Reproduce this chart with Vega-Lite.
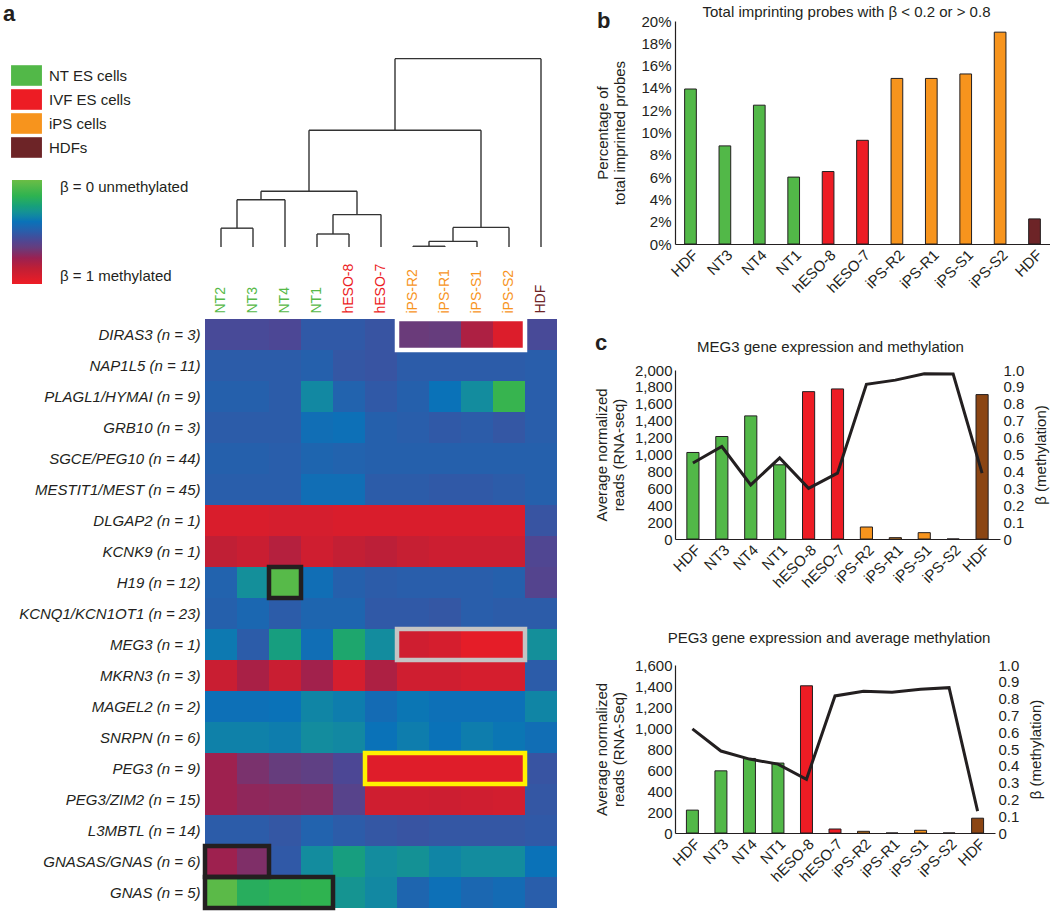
{
  "$schema": "https://vega.github.io/schema/vega-lite/v6.json",
  "autosize": {"type": "none"},
  "padding": {"left": 205, "top": 21, "right": 845, "bottom": 892},
  "config": {
    "font": "Liberation Sans",
    "view": {"stroke": null},
    "axis": {"labelFont": "Liberation Sans", "titleFont": "Liberation Sans", "labelColor": "#231f20", "titleColor": "#231f20", "titleFontWeight": "normal", "labelFontSize": 14, "titleFontSize": 14, "domainColor": "#231f20", "domainWidth": 1.2, "grid": false, "ticks": false},
    "title": {"fontWeight": "normal", "fontSize": 14, "color": "#231f20", "font": "Liberation Sans"},
    "legend": {"labelFont": "Liberation Sans", "labelColor": "#231f20", "padding": 0}
  },
  "bounds": "flush",
  "spacing": 470,
  "resolve": {"scale": {"color": "independent", "stroke": "independent"}, "legend": {"color": "independent"}},
  "hconcat": [
    {
      "title": {"text": "a", "anchor": "start", "frame": "group", "dx": -202, "dy": 6, "offset": 1, "fontSize": 22, "fontWeight": "bold"},
      "bounds": "flush",
      "spacing": 72,
      "resolve": {"scale": {"color": "independent"}},
      "vconcat": [
        {
          "width": 352,
          "height": 226,
          "data": {"values": [
            {"x1": 0, "x2": 0, "y1": 0, "y2": 0.10},
            {"x1": 1, "x2": 1, "y1": 0, "y2": 0.10},
            {"x1": 2, "x2": 2, "y1": 0, "y2": 0.251},
            {"x1": 3, "x2": 3, "y1": 0, "y2": 0.069},
            {"x1": 4, "x2": 4, "y1": 0, "y2": 0.069},
            {"x1": 5, "x2": 5, "y1": 0, "y2": 0.172},
            {"x1": 6, "x2": 6, "y1": 0, "y2": 0.004},
            {"x1": 7, "x2": 7, "y1": 0, "y2": 0.004},
            {"x1": 8, "x2": 8, "y1": 0, "y2": 0.03},
            {"x1": 9, "x2": 9, "y1": 0, "y2": 0.104},
            {"x1": 10, "x2": 10, "y1": 0, "y2": 1.0},
            {"x1": 0, "x2": 1, "y1": 0.10, "y2": 0.10},
            {"x1": 0.5, "x2": 2, "y1": 0.251, "y2": 0.251},
            {"x1": 3, "x2": 4, "y1": 0.069, "y2": 0.069},
            {"x1": 3.5, "x2": 5, "y1": 0.172, "y2": 0.172},
            {"x1": 1.25, "x2": 4.25, "y1": 0.296, "y2": 0.296},
            {"x1": 6, "x2": 7, "y1": 0.004, "y2": 0.004},
            {"x1": 6.5, "x2": 8, "y1": 0.03, "y2": 0.03},
            {"x1": 7.25, "x2": 9, "y1": 0.104, "y2": 0.104},
            {"x1": 2.75, "x2": 8.125, "y1": 0.62, "y2": 0.62},
            {"x1": 5.4375, "x2": 10, "y1": 1.0, "y2": 1.0},
            {"x1": 0.5, "x2": 0.5, "y1": 0.10, "y2": 0.251},
            {"x1": 3.5, "x2": 3.5, "y1": 0.069, "y2": 0.172},
            {"x1": 1.25, "x2": 1.25, "y1": 0.251, "y2": 0.296},
            {"x1": 4.25, "x2": 4.25, "y1": 0.172, "y2": 0.296},
            {"x1": 6.5, "x2": 6.5, "y1": 0.004, "y2": 0.03},
            {"x1": 7.25, "x2": 7.25, "y1": 0.03, "y2": 0.104},
            {"x1": 2.75, "x2": 2.75, "y1": 0.296, "y2": 0.62},
            {"x1": 8.125, "x2": 8.125, "y1": 0.104, "y2": 0.62},
            {"x1": 5.4375, "x2": 5.4375, "y1": 0.62, "y2": 1.0}
          ]},
          "mark": {"type": "rule", "color": "#333333", "strokeWidth": 1.4},
          "encoding": {
            "x": {"field": "x1", "type": "quantitative", "scale": {"domain": [-0.5, 10.5], "nice": false, "zero": false}, "axis": null},
            "x2": {"field": "x2"},
            "y": {"field": "y1", "type": "quantitative", "scale": {"domain": [0, 1.2], "nice": false}, "axis": null},
            "y2": {"field": "y2"}
          }
        },
        {
          "width": 352,
          "height": 589,
          "layer": [
            {
              "data": {"values": [
                {"g":"DIRAS3 (n = 3)","s":"NT2","b":0.57},{"g":"DIRAS3 (n = 3)","s":"NT3","b":0.57},{"g":"DIRAS3 (n = 3)","s":"NT4","b":0.58},{"g":"DIRAS3 (n = 3)","s":"NT1","b":0.51},{"g":"DIRAS3 (n = 3)","s":"hESO-8","b":0.51},{"g":"DIRAS3 (n = 3)","s":"hESO-7","b":0.53},{"g":"DIRAS3 (n = 3)","s":"iPS-R2","b":0.66},{"g":"DIRAS3 (n = 3)","s":"iPS-R1","b":0.65},{"g":"DIRAS3 (n = 3)","s":"iPS-S1","b":0.8},{"g":"DIRAS3 (n = 3)","s":"iPS-S2","b":0.94},{"g":"DIRAS3 (n = 3)","s":"HDF","b":0.57},
                {"g":"NAP1L5 (n = 11)","s":"NT2","b":0.5},{"g":"NAP1L5 (n = 11)","s":"NT3","b":0.5},{"g":"NAP1L5 (n = 11)","s":"NT4","b":0.5},{"g":"NAP1L5 (n = 11)","s":"NT1","b":0.48},{"g":"NAP1L5 (n = 11)","s":"hESO-8","b":0.52},{"g":"NAP1L5 (n = 11)","s":"hESO-7","b":0.53},{"g":"NAP1L5 (n = 11)","s":"iPS-R2","b":0.5},{"g":"NAP1L5 (n = 11)","s":"iPS-R1","b":0.5},{"g":"NAP1L5 (n = 11)","s":"iPS-S1","b":0.5},{"g":"NAP1L5 (n = 11)","s":"iPS-S2","b":0.5},{"g":"NAP1L5 (n = 11)","s":"HDF","b":0.49},
                {"g":"PLAGL1/HYMAI (n = 9)","s":"NT2","b":0.48},{"g":"PLAGL1/HYMAI (n = 9)","s":"NT3","b":0.48},{"g":"PLAGL1/HYMAI (n = 9)","s":"NT4","b":0.5},{"g":"PLAGL1/HYMAI (n = 9)","s":"NT1","b":0.34},{"g":"PLAGL1/HYMAI (n = 9)","s":"hESO-8","b":0.47},{"g":"PLAGL1/HYMAI (n = 9)","s":"hESO-7","b":0.51},{"g":"PLAGL1/HYMAI (n = 9)","s":"iPS-R2","b":0.48},{"g":"PLAGL1/HYMAI (n = 9)","s":"iPS-R1","b":0.4},{"g":"PLAGL1/HYMAI (n = 9)","s":"iPS-S1","b":0.33},{"g":"PLAGL1/HYMAI (n = 9)","s":"iPS-S2","b":0.13},{"g":"PLAGL1/HYMAI (n = 9)","s":"HDF","b":0.49},
                {"g":"GRB10 (n = 3)","s":"NT2","b":0.5},{"g":"GRB10 (n = 3)","s":"NT3","b":0.5},{"g":"GRB10 (n = 3)","s":"NT4","b":0.5},{"g":"GRB10 (n = 3)","s":"NT1","b":0.42},{"g":"GRB10 (n = 3)","s":"hESO-8","b":0.41},{"g":"GRB10 (n = 3)","s":"hESO-7","b":0.48},{"g":"GRB10 (n = 3)","s":"iPS-R2","b":0.49},{"g":"GRB10 (n = 3)","s":"iPS-R1","b":0.51},{"g":"GRB10 (n = 3)","s":"iPS-S1","b":0.5},{"g":"GRB10 (n = 3)","s":"iPS-S2","b":0.52},{"g":"GRB10 (n = 3)","s":"HDF","b":0.49},
                {"g":"SGCE/PEG10 (n = 44)","s":"NT2","b":0.48},{"g":"SGCE/PEG10 (n = 44)","s":"NT3","b":0.48},{"g":"SGCE/PEG10 (n = 44)","s":"NT4","b":0.49},{"g":"SGCE/PEG10 (n = 44)","s":"NT1","b":0.46},{"g":"SGCE/PEG10 (n = 44)","s":"hESO-8","b":0.47},{"g":"SGCE/PEG10 (n = 44)","s":"hESO-7","b":0.48},{"g":"SGCE/PEG10 (n = 44)","s":"iPS-R2","b":0.48},{"g":"SGCE/PEG10 (n = 44)","s":"iPS-R1","b":0.48},{"g":"SGCE/PEG10 (n = 44)","s":"iPS-S1","b":0.48},{"g":"SGCE/PEG10 (n = 44)","s":"iPS-S2","b":0.48},{"g":"SGCE/PEG10 (n = 44)","s":"HDF","b":0.48},
                {"g":"MESTIT1/MEST (n = 45)","s":"NT2","b":0.49},{"g":"MESTIT1/MEST (n = 45)","s":"NT3","b":0.49},{"g":"MESTIT1/MEST (n = 45)","s":"NT4","b":0.49},{"g":"MESTIT1/MEST (n = 45)","s":"NT1","b":0.42},{"g":"MESTIT1/MEST (n = 45)","s":"hESO-8","b":0.42},{"g":"MESTIT1/MEST (n = 45)","s":"hESO-7","b":0.5},{"g":"MESTIT1/MEST (n = 45)","s":"iPS-R2","b":0.5},{"g":"MESTIT1/MEST (n = 45)","s":"iPS-R1","b":0.51},{"g":"MESTIT1/MEST (n = 45)","s":"iPS-S1","b":0.51},{"g":"MESTIT1/MEST (n = 45)","s":"iPS-S2","b":0.5},{"g":"MESTIT1/MEST (n = 45)","s":"HDF","b":0.48},
                {"g":"DLGAP2 (n = 1)","s":"NT2","b":0.93},{"g":"DLGAP2 (n = 1)","s":"NT3","b":0.93},{"g":"DLGAP2 (n = 1)","s":"NT4","b":0.92},{"g":"DLGAP2 (n = 1)","s":"NT1","b":0.92},{"g":"DLGAP2 (n = 1)","s":"hESO-8","b":0.93},{"g":"DLGAP2 (n = 1)","s":"hESO-7","b":0.93},{"g":"DLGAP2 (n = 1)","s":"iPS-R2","b":0.93},{"g":"DLGAP2 (n = 1)","s":"iPS-R1","b":0.93},{"g":"DLGAP2 (n = 1)","s":"iPS-S1","b":0.93},{"g":"DLGAP2 (n = 1)","s":"iPS-S2","b":0.93},{"g":"DLGAP2 (n = 1)","s":"HDF","b":0.53},
                {"g":"KCNK9 (n = 1)","s":"NT2","b":0.85},{"g":"KCNK9 (n = 1)","s":"NT3","b":0.88},{"g":"KCNK9 (n = 1)","s":"NT4","b":0.82},{"g":"KCNK9 (n = 1)","s":"NT1","b":0.9},{"g":"KCNK9 (n = 1)","s":"hESO-8","b":0.86},{"g":"KCNK9 (n = 1)","s":"hESO-7","b":0.84},{"g":"KCNK9 (n = 1)","s":"iPS-R2","b":0.87},{"g":"KCNK9 (n = 1)","s":"iPS-R1","b":0.89},{"g":"KCNK9 (n = 1)","s":"iPS-S1","b":0.89},{"g":"KCNK9 (n = 1)","s":"iPS-S2","b":0.89},{"g":"KCNK9 (n = 1)","s":"HDF","b":0.59},
                {"g":"H19 (n = 12)","s":"NT2","b":0.47},{"g":"H19 (n = 12)","s":"NT3","b":0.32},{"g":"H19 (n = 12)","s":"NT4","b":0.05},{"g":"H19 (n = 12)","s":"NT1","b":0.42},{"g":"H19 (n = 12)","s":"hESO-8","b":0.48},{"g":"H19 (n = 12)","s":"hESO-7","b":0.5},{"g":"H19 (n = 12)","s":"iPS-R2","b":0.49},{"g":"H19 (n = 12)","s":"iPS-R1","b":0.49},{"g":"H19 (n = 12)","s":"iPS-S1","b":0.49},{"g":"H19 (n = 12)","s":"iPS-S2","b":0.48},{"g":"H19 (n = 12)","s":"HDF","b":0.6},
                {"g":"KCNQ1/KCN1OT1 (n = 23)","s":"NT2","b":0.48},{"g":"KCNQ1/KCN1OT1 (n = 23)","s":"NT3","b":0.45},{"g":"KCNQ1/KCN1OT1 (n = 23)","s":"NT4","b":0.5},{"g":"KCNQ1/KCN1OT1 (n = 23)","s":"NT1","b":0.46},{"g":"KCNQ1/KCN1OT1 (n = 23)","s":"hESO-8","b":0.46},{"g":"KCNQ1/KCN1OT1 (n = 23)","s":"hESO-7","b":0.51},{"g":"KCNQ1/KCN1OT1 (n = 23)","s":"iPS-R2","b":0.51},{"g":"KCNQ1/KCN1OT1 (n = 23)","s":"iPS-R1","b":0.52},{"g":"KCNQ1/KCN1OT1 (n = 23)","s":"iPS-S1","b":0.49},{"g":"KCNQ1/KCN1OT1 (n = 23)","s":"iPS-S2","b":0.5},{"g":"KCNQ1/KCN1OT1 (n = 23)","s":"HDF","b":0.5},
                {"g":"MEG3 (n = 1)","s":"NT2","b":0.38},{"g":"MEG3 (n = 1)","s":"NT3","b":0.5},{"g":"MEG3 (n = 1)","s":"NT4","b":0.26},{"g":"MEG3 (n = 1)","s":"NT1","b":0.42},{"g":"MEG3 (n = 1)","s":"hESO-8","b":0.22},{"g":"MEG3 (n = 1)","s":"hESO-7","b":0.33},{"g":"MEG3 (n = 1)","s":"iPS-R2","b":0.9},{"g":"MEG3 (n = 1)","s":"iPS-R1","b":0.92},{"g":"MEG3 (n = 1)","s":"iPS-S1","b":0.97},{"g":"MEG3 (n = 1)","s":"iPS-S2","b":0.97},{"g":"MEG3 (n = 1)","s":"HDF","b":0.32},
                {"g":"MKRN3 (n = 3)","s":"NT2","b":0.88},{"g":"MKRN3 (n = 3)","s":"NT3","b":0.79},{"g":"MKRN3 (n = 3)","s":"NT4","b":0.88},{"g":"MKRN3 (n = 3)","s":"NT1","b":0.77},{"g":"MKRN3 (n = 3)","s":"hESO-8","b":0.92},{"g":"MKRN3 (n = 3)","s":"hESO-7","b":0.8},{"g":"MKRN3 (n = 3)","s":"iPS-R2","b":0.9},{"g":"MKRN3 (n = 3)","s":"iPS-R1","b":0.9},{"g":"MKRN3 (n = 3)","s":"iPS-S1","b":0.92},{"g":"MKRN3 (n = 3)","s":"iPS-S2","b":0.92},{"g":"MKRN3 (n = 3)","s":"HDF","b":0.5},
                {"g":"MAGEL2 (n = 2)","s":"NT2","b":0.41},{"g":"MAGEL2 (n = 2)","s":"NT3","b":0.41},{"g":"MAGEL2 (n = 2)","s":"NT4","b":0.4},{"g":"MAGEL2 (n = 2)","s":"NT1","b":0.35},{"g":"MAGEL2 (n = 2)","s":"hESO-8","b":0.37},{"g":"MAGEL2 (n = 2)","s":"hESO-7","b":0.43},{"g":"MAGEL2 (n = 2)","s":"iPS-R2","b":0.39},{"g":"MAGEL2 (n = 2)","s":"iPS-R1","b":0.41},{"g":"MAGEL2 (n = 2)","s":"iPS-S1","b":0.41},{"g":"MAGEL2 (n = 2)","s":"iPS-S2","b":0.41},{"g":"MAGEL2 (n = 2)","s":"HDF","b":0.35},
                {"g":"SNRPN (n = 6)","s":"NT2","b":0.36},{"g":"SNRPN (n = 6)","s":"NT3","b":0.36},{"g":"SNRPN (n = 6)","s":"NT4","b":0.37},{"g":"SNRPN (n = 6)","s":"NT1","b":0.33},{"g":"SNRPN (n = 6)","s":"hESO-8","b":0.34},{"g":"SNRPN (n = 6)","s":"hESO-7","b":0.4},{"g":"SNRPN (n = 6)","s":"iPS-R2","b":0.37},{"g":"SNRPN (n = 6)","s":"iPS-R1","b":0.4},{"g":"SNRPN (n = 6)","s":"iPS-S1","b":0.37},{"g":"SNRPN (n = 6)","s":"iPS-S2","b":0.39},{"g":"SNRPN (n = 6)","s":"HDF","b":0.42},
                {"g":"PEG3 (n = 9)","s":"NT2","b":0.76},{"g":"PEG3 (n = 9)","s":"NT3","b":0.69},{"g":"PEG3 (n = 9)","s":"NT4","b":0.65},{"g":"PEG3 (n = 9)","s":"NT1","b":0.63},{"g":"PEG3 (n = 9)","s":"hESO-8","b":0.58},{"g":"PEG3 (n = 9)","s":"hESO-7","b":0.95},{"g":"PEG3 (n = 9)","s":"iPS-R2","b":0.95},{"g":"PEG3 (n = 9)","s":"iPS-R1","b":0.95},{"g":"PEG3 (n = 9)","s":"iPS-S1","b":0.95},{"g":"PEG3 (n = 9)","s":"iPS-S2","b":0.95},{"g":"PEG3 (n = 9)","s":"HDF","b":0.53},
                {"g":"PEG3/ZIM2 (n = 15)","s":"NT2","b":0.76},{"g":"PEG3/ZIM2 (n = 15)","s":"NT3","b":0.73},{"g":"PEG3/ZIM2 (n = 15)","s":"NT4","b":0.72},{"g":"PEG3/ZIM2 (n = 15)","s":"NT1","b":0.71},{"g":"PEG3/ZIM2 (n = 15)","s":"hESO-8","b":0.61},{"g":"PEG3/ZIM2 (n = 15)","s":"hESO-7","b":0.9},{"g":"PEG3/ZIM2 (n = 15)","s":"iPS-R2","b":0.9},{"g":"PEG3/ZIM2 (n = 15)","s":"iPS-R1","b":0.89},{"g":"PEG3/ZIM2 (n = 15)","s":"iPS-S1","b":0.9},{"g":"PEG3/ZIM2 (n = 15)","s":"iPS-S2","b":0.91},{"g":"PEG3/ZIM2 (n = 15)","s":"HDF","b":0.52},
                {"g":"L3MBTL (n = 14)","s":"NT2","b":0.5},{"g":"L3MBTL (n = 14)","s":"NT3","b":0.5},{"g":"L3MBTL (n = 14)","s":"NT4","b":0.52},{"g":"L3MBTL (n = 14)","s":"NT1","b":0.47},{"g":"L3MBTL (n = 14)","s":"hESO-8","b":0.5},{"g":"L3MBTL (n = 14)","s":"hESO-7","b":0.52},{"g":"L3MBTL (n = 14)","s":"iPS-R2","b":0.53},{"g":"L3MBTL (n = 14)","s":"iPS-R1","b":0.52},{"g":"L3MBTL (n = 14)","s":"iPS-S1","b":0.52},{"g":"L3MBTL (n = 14)","s":"iPS-S2","b":0.52},{"g":"L3MBTL (n = 14)","s":"HDF","b":0.51},
                {"g":"GNASAS/GNAS (n = 6)","s":"NT2","b":0.76},{"g":"GNASAS/GNAS (n = 6)","s":"NT3","b":0.7},{"g":"GNASAS/GNAS (n = 6)","s":"NT4","b":0.51},{"g":"GNASAS/GNAS (n = 6)","s":"NT1","b":0.33},{"g":"GNASAS/GNAS (n = 6)","s":"hESO-8","b":0.26},{"g":"GNASAS/GNAS (n = 6)","s":"hESO-7","b":0.33},{"g":"GNASAS/GNAS (n = 6)","s":"iPS-R2","b":0.31},{"g":"GNASAS/GNAS (n = 6)","s":"iPS-R1","b":0.35},{"g":"GNASAS/GNAS (n = 6)","s":"iPS-S1","b":0.33},{"g":"GNASAS/GNAS (n = 6)","s":"iPS-S2","b":0.33},{"g":"GNASAS/GNAS (n = 6)","s":"HDF","b":0.4},
                {"g":"GNAS (n = 5)","s":"NT2","b":0.04},{"g":"GNAS (n = 5)","s":"NT3","b":0.18},{"g":"GNAS (n = 5)","s":"NT4","b":0.16},{"g":"GNAS (n = 5)","s":"NT1","b":0.15},{"g":"GNAS (n = 5)","s":"hESO-8","b":0.3},{"g":"GNAS (n = 5)","s":"hESO-7","b":0.34},{"g":"GNAS (n = 5)","s":"iPS-R2","b":0.46},{"g":"GNAS (n = 5)","s":"iPS-R1","b":0.41},{"g":"GNAS (n = 5)","s":"iPS-S1","b":0.45},{"g":"GNAS (n = 5)","s":"iPS-S2","b":0.43},{"g":"GNAS (n = 5)","s":"HDF","b":0.49}
              ]},
              "mark": {"type": "rect"},
              "encoding": {
                "x": {"field": "s", "type": "nominal",
                  "scale": {"domain": ["NT2","NT3","NT4","NT1","hESO-8","hESO-7","iPS-R2","iPS-R1","iPS-S1","iPS-S2","HDF"], "paddingInner": 0, "paddingOuter": 0},
                  "axis": {"orient": "top", "title": null, "domain": false, "ticks": false, "labelAngle": -90, "labelAlign": "left", "labelBaseline": "middle", "labelPadding": 6, "labelFontSize": 14,
                    "labelColor": {"expr": "indexof(['NT2','NT3','NT4','NT1'], datum.value) >= 0 ? '#56b947' : (indexof(['hESO-8','hESO-7'], datum.value) >= 0 ? '#ec1c24' : (datum.value == 'HDF' ? '#6d2427' : '#f7941d'))"}}},
                "y": {"field": "g", "type": "nominal",
                  "scale": {"domain": ["DIRAS3 (n = 3)","NAP1L5 (n = 11)","PLAGL1/HYMAI (n = 9)","GRB10 (n = 3)","SGCE/PEG10 (n = 44)","MESTIT1/MEST (n = 45)","DLGAP2 (n = 1)","KCNK9 (n = 1)","H19 (n = 12)","KCNQ1/KCN1OT1 (n = 23)","MEG3 (n = 1)","MKRN3 (n = 3)","MAGEL2 (n = 2)","SNRPN (n = 6)","PEG3 (n = 9)","PEG3/ZIM2 (n = 15)","L3MBTL (n = 14)","GNASAS/GNAS (n = 6)","GNAS (n = 5)"], "paddingInner": 0, "paddingOuter": 0},
                  "axis": {"title": null, "domain": false, "ticks": false, "labelFontSize": 15, "labelFontStyle": "italic", "labelPadding": 5, "labelLimit": 400}},
                "color": {"field": "b", "type": "quantitative",
                  "scale": {"domain": [1, 0.85, 0.75, 0.66, 0.58, 0.5, 0.4, 0.33, 0.25, 0.15, 0], "range": ["#ee1c25", "#c01f35", "#9a2152", "#6a3b7a", "#4c4795", "#2c5ca9", "#0a72b8", "#138c9e", "#17a07a", "#2fb350", "#6bbd45"], "interpolate": "rgb"},
                  "legend": {"orient": "none", "legendX": -193, "legendY": -139, "direction": "vertical", "title": null, "gradientLength": 104, "gradientThickness": 30, "values": [0, 1], "labelExpr": "datum.value == 0 ? 'β = 0 unmethylated' : 'β = 1 methylated'", "labelFontSize": 15, "labelOffset": 18, "gradientStrokeWidth": 0, "labelOverlap": false}}
              }
            },
            {
              "data": {"values": [
                {"g":"DIRAS3 (n = 3)","from":"iPS-R2","to":"iPS-S2","k":"white"},
                {"g":"H19 (n = 12)","from":"NT4","to":"NT4","k":"black"},
                {"g":"MEG3 (n = 1)","from":"iPS-R2","to":"iPS-S2","k":"gray"},
                {"g":"PEG3 (n = 9)","from":"hESO-7","to":"iPS-S2","k":"yellow"},
                {"g":"GNASAS/GNAS (n = 6)","from":"NT2","to":"NT3","k":"black"},
                {"g":"GNAS (n = 5)","from":"NT2","to":"NT1","k":"black"}
              ]},
              "mark": {"type": "rect", "fill": "transparent", "strokeWidth": 4.5},
              "encoding": {
                "x": {"field": "from", "type": "nominal", "bandPosition": 0},
                "x2": {"field": "to", "bandPosition": 1},
                "y": {"field": "g", "type": "nominal"},
                "stroke": {"field": "k", "type": "nominal", "scale": {"domain": ["white","black","gray","yellow"], "range": ["#ffffff","#231f20","#c4c4c4","#fff200"]}, "legend": null}
              }
            }
          ]
        }
      ]
    },
    {
      "title": {"text": "b", "anchor": "start", "frame": "group", "dx": -78, "dy": 28, "offset": 0, "fontSize": 22, "fontWeight": "bold"},
      "bounds": "flush",
      "spacing": 126,
      "resolve": {"scale": {"color": "independent"}, "legend": {"color": "independent"}},
      "vconcat": [
        {
          "width": 375,
          "height": 223,
          "title": {"text": "Total imprinting probes with β < 0.2 or > 0.8", "fontSize": 15, "offset": 5, "dx": -16, "dy": 11},
          "data": {"values": [
            {"id":"HDF","t":"NT ES cells","pct":13.9},
            {"id":"NT3","t":"NT ES cells","pct":8.8},
            {"id":"NT4","t":"NT ES cells","pct":12.45},
            {"id":"NT1","t":"NT ES cells","pct":6.0},
            {"id":"hESO-8","t":"IVF ES cells","pct":6.5},
            {"id":"hESO-7","t":"IVF ES cells","pct":9.3},
            {"id":"iPS-R2","t":"iPS cells","pct":14.85},
            {"id":"iPS-R1","t":"iPS cells","pct":14.85},
            {"id":"iPS-S1","t":"iPS cells","pct":15.25},
            {"id":"iPS-S2","t":"iPS cells","pct":19.0},
            {"id":"HDF#2","t":"HDFs","pct":2.25}
          ]},
          "mark": {"type": "bar", "stroke": "#231f20", "strokeWidth": 1},
          "encoding": {
            "x": {"field": "id", "type": "nominal", "sort": null, "scale": {"paddingInner": 0.66, "paddingOuter": 0.28},
              "axis": {"title": null, "labelAngle": -45, "labelExpr": "replace(datum.value, '#2', '')", "labelPadding": 3, "labelFontSize": 15}},
            "y": {"field": "pct", "type": "quantitative", "scale": {"domain": [0, 20], "nice": false},
              "axis": {"values": [0,2,4,6,8,10,12,14,16,18,20], "labelExpr": "datum.value + '%'", "title": ["Percentage of", "total imprinted probes"], "titleFontSize": 15, "titlePadding": 13, "labelPadding": 4, "labelFontSize": 15}},
            "color": {"field": "t", "type": "nominal",
              "scale": {"domain": ["NT ES cells","IVF ES cells","iPS cells","HDFs"], "range": ["#52b848","#ed1c24","#f7941d","#6d2427"]},
              "legend": {"orient": "none", "legendX": -659, "legendY": 44, "title": null, "symbolType": "M-1.5,-1H1.5V1H-1.5Z", "symbolSize": 424, "symbolStrokeWidth": 0, "symbolOpacity": 1, "labelFontSize": 15, "labelOffset": 12, "rowPadding": 3}}
          }
        },
        {
          "width": 325,
          "height": 169,
          "title": {"text": "c", "anchor": "start", "frame": "group", "dx": -80, "dy": 32, "offset": 16, "fontSize": 22, "fontWeight": "bold"},
          "data": {"values": [
            {"id":"HDF","t":"NT ES cells","reads":1024,"beta":0.45},
            {"id":"NT3","t":"NT ES cells","reads":1213,"beta":0.547},
            {"id":"NT4","t":"NT ES cells","reads":1457,"beta":0.32},
            {"id":"NT1","t":"NT ES cells","reads":878,"beta":0.48},
            {"id":"hESO-8","t":"IVF ES cells","reads":1744,"beta":0.3},
            {"id":"hESO-7","t":"IVF ES cells","reads":1776,"beta":0.39},
            {"id":"iPS-R2","t":"iPS cells","reads":142,"beta":0.915},
            {"id":"iPS-R1","t":"iPS cells","reads":16,"beta":0.94},
            {"id":"iPS-S1","t":"iPS cells","reads":75,"beta":0.978},
            {"id":"iPS-S2","t":"iPS cells","reads":0,"beta":0.976},
            {"id":"HDF#2","t":"HDFs","reads":1709,"beta":0.39}
          ]},
          "layer": [
            {
              "mark": {"type": "bar", "stroke": "#231f20", "strokeWidth": 1},
              "encoding": {
                "x": {"field": "id", "type": "nominal", "sort": null, "scale": {"paddingInner": 0.58, "paddingOuter": 0.41},
                  "axis": {"title": null, "labelAngle": -45, "labelExpr": "replace(datum.value, '#2', '')", "labelPadding": 3, "labelFontSize": 15}},
                "y": {"field": "reads", "type": "quantitative", "scale": {"domain": [0, 2000], "nice": false},
                  "axis": {"values": [0,200,400,600,800,1000,1200,1400,1600,1800,2000], "format": ",d", "title": ["Average normalized", "reads (RNA-seq)"], "titleFontSize": 15, "titlePadding": 8, "labelPadding": 3, "labelFontSize": 15}},
                "color": {"field": "t", "type": "nominal",
                  "scale": {"domain": ["NT ES cells","IVF ES cells","iPS cells","HDFs"], "range": ["#52b848","#ed1c24","#f7941d","#8b4513"]}, "legend": null}
              }
            },
            {
              "mark": {"type": "line", "color": "#231f20", "strokeWidth": 3},
              "encoding": {
                "x": {"field": "id", "type": "nominal", "sort": null,
                  "axis": {"orient": "top", "title": "MEG3 gene expression and methylation", "titleFontSize": 15, "labels": false, "domain": false, "ticks": false, "titlePadding": 16, "titleX": 155}},
                "y": {"field": "beta", "type": "quantitative", "scale": {"domain": [0, 1], "nice": false},
                  "axis": {"orient": "right", "values": [0,0.1,0.2,0.3,0.4,0.5,0.6,0.7,0.8,0.9,1], "labelExpr": "datum.value == 0 ? '0' : format(datum.value, '.1f')", "domain": false, "title": "β (methylation)", "titleFontSize": 15, "titleAngle": 270, "titleBaseline": "top", "titlePadding": 10, "labelPadding": 3, "labelFontSize": 15}}
              }
            }
          ],
          "resolve": {"scale": {"y": "independent"}, "axis": {"x": "independent"}}
        },
        {
          "width": 320,
          "height": 168,
          "data": {"values": [
            {"id":"HDF","t":"NT ES cells","reads":218,"beta":0.62},
            {"id":"NT3","t":"NT ES cells","reads":592,"beta":0.488},
            {"id":"NT4","t":"NT ES cells","reads":710,"beta":0.44},
            {"id":"NT1","t":"NT ES cells","reads":666,"beta":0.41},
            {"id":"hESO-8","t":"IVF ES cells","reads":1402,"beta":0.32},
            {"id":"hESO-7","t":"IVF ES cells","reads":38,"beta":0.816},
            {"id":"iPS-R2","t":"iPS cells","reads":16,"beta":0.844},
            {"id":"iPS-R1","t":"iPS cells","reads":0,"beta":0.838},
            {"id":"iPS-S1","t":"iPS cells","reads":26,"beta":0.855},
            {"id":"iPS-S2","t":"iPS cells","reads":0,"beta":0.865},
            {"id":"HDF#2","t":"HDFs","reads":141,"beta":0.13}
          ]},
          "title": {"text": "PEG3 gene expression and average methylation", "fontSize": 15, "offset": 12, "dx": -6},
          "layer": [
            {
              "mark": {"type": "bar", "stroke": "#231f20", "strokeWidth": 1},
              "encoding": {
                "x": {"field": "id", "type": "nominal", "sort": null, "scale": {"paddingInner": 0.58, "paddingOuter": 0.4},
                  "axis": {"title": null, "labelAngle": -45, "labelExpr": "replace(datum.value, '#2', '')", "labelPadding": 3, "labelFontSize": 15}},
                "y": {"field": "reads", "type": "quantitative", "scale": {"domain": [0, 1600], "nice": false},
                  "axis": {"values": [0,200,400,600,800,1000,1200,1400,1600], "format": ",d", "title": ["Average normalized", "reads (RNA-Seq)"], "titleFontSize": 15, "titlePadding": 8, "labelPadding": 3, "labelFontSize": 15}},
                "color": {"field": "t", "type": "nominal",
                  "scale": {"domain": ["NT ES cells","IVF ES cells","iPS cells","HDFs"], "range": ["#52b848","#ed1c24","#f7941d","#8b4513"]}, "legend": null}
              }
            },
            {
              "mark": {"type": "line", "color": "#231f20", "strokeWidth": 3},
              "encoding": {
                "x": {"field": "id", "type": "nominal", "sort": null},
                "y": {"field": "beta", "type": "quantitative", "scale": {"domain": [0, 1], "nice": false},
                  "axis": {"orient": "right", "values": [0,0.1,0.2,0.3,0.4,0.5,0.6,0.7,0.8,0.9,1], "labelExpr": "datum.value == 0 ? '0' : format(datum.value, '.1f')", "domain": false, "title": "β (methylation)", "titleFontSize": 15, "titleAngle": 270, "titleBaseline": "top", "titlePadding": 10, "labelPadding": 3, "labelFontSize": 15}}
              }
            }
          ],
          "resolve": {"scale": {"y": "independent"}}
        }
      ]
    }
  ]
}
